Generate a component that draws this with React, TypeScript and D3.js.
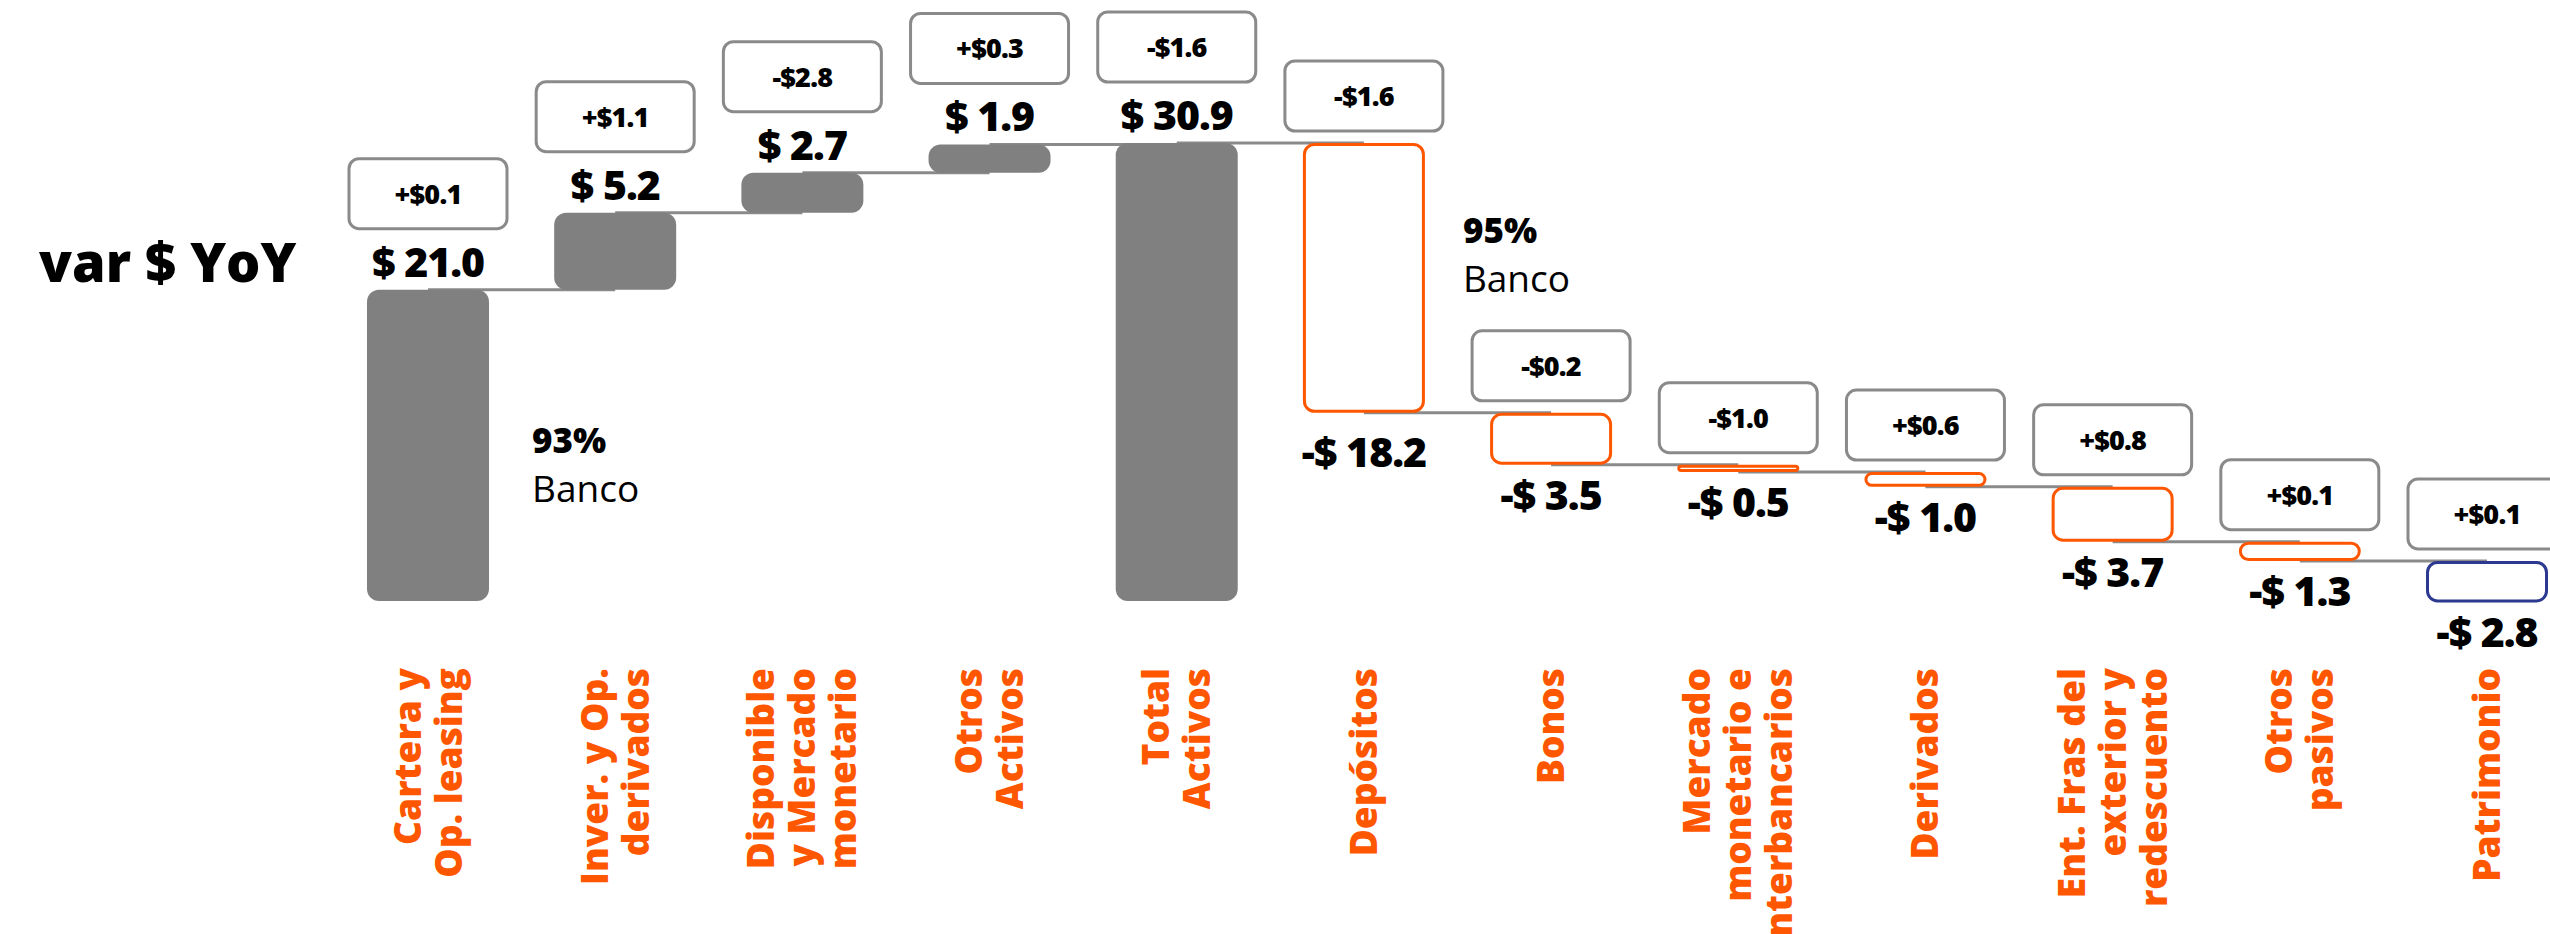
import React from "react";
import * as d3 from "d3";

const categories: string[][] = [
  ["Cartera y", "Op. leasing"],
  ["Inver. y Op.", "derivados"],
  ["Disponible", "y Mercado", "monetario"],
  ["Otros", "Activos"],
  ["Total", "Activos"],
  ["Depósitos"],
  ["Bonos"],
  ["Mercado", "monetario e", "interbancarios"],
  ["Derivados"],
  ["Ent. Fras del", "exterior y", "redescuento"],
  ["Otros", "pasivos"],
  ["Patrimonio"],
];
const values: number[] = [21.0, 5.2, 2.7, 1.9, 30.9, -18.2, -3.5, -0.5, -1.0, -3.7, -1.3, -2.8];
const kinds: string[] = ["asset", "asset", "asset", "asset", "total", "liab", "liab", "liab", "liab", "liab", "liab", "equity"];
const yoyChange: number[] = [0.1, 1.1, -2.8, 0.3, -1.6, -1.6, -0.2, -1.0, 0.6, 0.8, 0.1, 0.1];
const title = "var $ YoY";
const notes = [
  { after: 0, pct: "93%", label: "Banco" },
  { after: 5, pct: "95%", label: "Banco" },
];

const W = 2550, H = 934;
const FONT = "'Open Sans', sans-serif";
const ORANGE = "#FF5700";
const GRAY = "#808080";
const LINE = "#8a8a8a";
const NAVY = "#2B3990";

export default function App() {
  const x = d3.scalePoint<number>().domain(d3.range(categories.length)).range([428, 2487]);
  const y = d3.scaleLinear().domain([0, 30.9]).range([601, 143]);
  const barW = 122, boxW = 158, boxH = 70;

  let cum = 0;
  const bars = values.map((v, i) => {
    let start: number, end: number;
    if (kinds[i] === "total") { start = 0; end = v; cum = v; }
    else { start = cum; end = cum + v; cum = end; }
    const top = y(Math.max(start, end));
    const bottom = y(Math.min(start, end));
    return { i, v, start, end, top, bottom, cx: x(i) as number, kind: kinds[i] };
  });

  const fmtVal = (v: number) => (v < 0 ? "-$ " : "$ ") + Math.abs(v).toFixed(1);
  const fmtChg = (v: number) => (v < 0 ? "-$" : "+$") + Math.abs(v).toFixed(1);

  const connectors = bars.slice(0, -1).map((b, k) => {
    const nb = bars[k + 1];
    const level = nb.kind === "total" ? b.end : nb.start;
    return { x1: b.cx, x2: nb.cx, yv: y(level) };
  });

  const lh = 41;
  const catSize = 37;

  return (
    <svg width={W} height={H} style={{ position: "absolute", left: 0, top: 0, background: "#fff" }} fontFamily={FONT}>
      <text x={39} y={282} fontSize={54} fontWeight={800} fill="#000">{title}</text>

      {connectors.map((c, k) => (
        <line key={"c" + k} x1={c.x1} x2={c.x2} y1={c.yv} y2={c.yv} stroke={LINE} strokeWidth={3} />
      ))}

      {bars.map((b) => {
        const h = b.bottom - b.top;
        const outline = b.kind === "liab" || b.kind === "equity";
        const sw = 3;
        if (!outline) {
          return (
            <rect key={"b" + b.i} x={b.cx - barW / 2} y={b.top} width={barW} height={h}
              rx={Math.min(12, h / 2)} fill={GRAY} />
          );
        }
        const ih = Math.max(h - sw, 2);
        return (
          <rect key={"b" + b.i} x={b.cx - barW / 2 + sw / 2} y={b.top + sw / 2} width={barW - sw} height={ih}
            rx={Math.min(10, ih / 2)} fill="none" stroke={b.kind === "equity" ? NAVY : ORANGE} strokeWidth={sw} />
        );
      })}

      {bars.map((b) => {
        const up = b.kind === "asset" || b.kind === "total";
        const labelY = up ? b.top - 13 : b.bottom + (b.i === 5 ? 54 : 45);
        const boxBottom = up ? b.top - 61 : b.top - 12;
        return (
          <g key={"l" + b.i}>
            <rect x={b.cx - boxW / 2} y={boxBottom - boxH} width={boxW} height={boxH} rx={10}
              fill="#fff" stroke={LINE} strokeWidth={3} />
            <text x={b.cx} y={boxBottom - boxH / 2 + 10} fontSize={27} fontWeight={800} textAnchor="middle" fill="#000"
              letterSpacing={-0.8}>
              {fmtChg(yoyChange[b.i])}
            </text>
            <text x={b.cx} y={labelY} fontSize={41} fontWeight={800} textAnchor="middle" fill="#000" letterSpacing={-1}>
              {fmtVal(b.v)}
            </text>
          </g>
        );
      })}

      {notes.map((n, k) => {
        const b = bars[n.after];
        const nx = b.cx + barW / 2 + 43 + (k === 1 ? -5 : 0);
        const ny = k === 0 ? 453 : 243;
        return (
          <g key={"n" + k}>
            <text x={nx} y={ny} fontSize={35} fontWeight={800} fill="#000">{n.pct}</text>
            <text x={nx} y={ny + 49} fontSize={37} fontWeight={400} fill="#000">{n.label}</text>
          </g>
        );
      })}

      {categories.map((lines, i) => {
        const cx = x(i) as number;
        const n = lines.length;
        return (
          <g key={"cat" + i} transform={`translate(${cx},668) rotate(-90)`}>
            {lines.map((t, j) => (
              <text key={j} x={0} y={(j - (n - 1) / 2) * lh + 13} fontSize={catSize} fontWeight={800}
                fill={ORANGE} textAnchor="end">{t}</text>
            ))}
          </g>
        );
      })}
    </svg>
  );
}
